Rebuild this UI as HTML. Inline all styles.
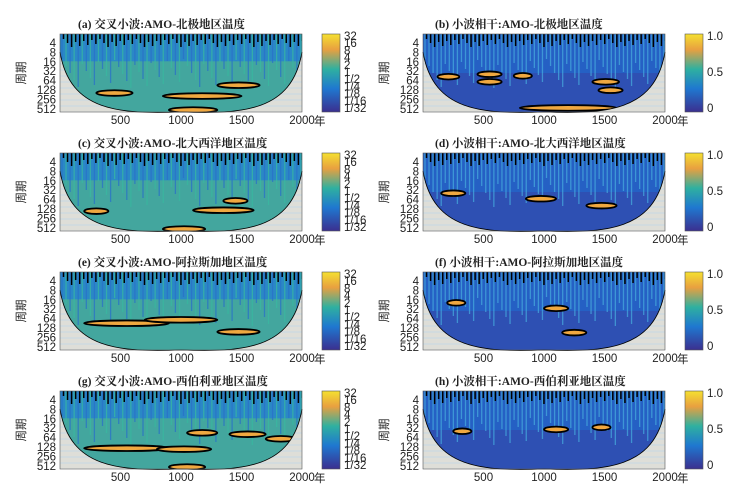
<!DOCTYPE html>
<html><head><meta charset="utf-8"><style>
body{margin:0;background:#fff;width:741px;height:493px;overflow:hidden}
svg{display:block}
text{font-family:"Liberation Sans","Noto Sans CJK SC",sans-serif;font-size:11.5px;fill:#222}
.t{font-family:"Liberation Serif","Noto Serif CJK SC",serif;font-size:11.5px;font-weight:bold}
</style></head><body>
<svg id="fig" width="741" height="493"></svg>
<script>
const xTicks=[500,1000,1500,2000];
const yTicks=[4,8,16,32,64,128,256,512];
const cbLeftTicks=["32","16","8","4","2","1","1/2","1/4","1/8","1/16","1/32"];
const cbRightTicks=["1.0","0.5","0"];
const titles=["(a) 交叉小波:AMO-北极地区温度","(b) 小波相干:AMO-北极地区温度","(c) 交叉小波:AMO-北大西洋地区温度","(d) 小波相干:AMO-北大西洋地区温度","(e) 交叉小波:AMO-阿拉斯加地区温度","(f) 小波相干:AMO-阿拉斯加地区温度","(g) 交叉小波:AMO-西伯利亚地区温度","(h) 小波相干:AMO-西伯利亚地区温度"];
// significant regions: [yearStart, yearEnd, period]
const blobsA=[[300,600,160],[850,1500,200],[1300,1650,90],[900,1300,560]];
const blobsB=[[120,300,48],[450,650,40],[450,650,70],[750,900,45],[1400,1620,70],[1450,1650,130],[800,1600,480]];
const blobsC=[[200,400,150],[1100,1600,140],[1350,1550,70],[850,1200,560]];
const blobsD=[[150,350,40],[1350,1600,100],[850,1100,60]];
const blobsE=[[200,900,90],[700,1300,70],[1300,1650,170]];
const blobsF=[[200,350,20],[1000,1200,30],[1150,1350,180]];
const blobsG=[[200,900,140],[800,1250,150],[1050,1300,45],[1400,1700,50],[1700,1950,70],[900,1200,560]];
const blobsH=[[250,400,40],[1400,1550,30],[1000,1200,35]];
const blobs=[blobsA,blobsB,blobsC,blobsD,blobsE,blobsF,blobsG,blobsH];
const NS="http://www.w3.org/2000/svg";
const fig=document.getElementById('fig');
function mk(tag,attrs,parent){const e=document.createElementNS(NS,tag);for(const k in attrs)e.setAttribute(k,attrs[k]);(parent||fig).appendChild(e);return e;}
const defs=mk('defs',{});
['cbL','cbR'].forEach(id=>{const lg=mk('linearGradient',{id:id,x1:0,y1:1,x2:0,y2:0},defs);
[["0","#3b2f8f"],["0.3","#1f78d0"],["0.55","#2fb0a0"],["0.8","#e8a040"],["1","#f5e030"]].forEach(s=>mk('stop',{offset:s[0],'stop-color':s[1]},lg));});
const tops=[34,153,272,391], H=78;
for(let p=0;p<8;p++){
  const row=Math.floor(p/2), right=p%2===1;
  const x0=right?423:60, x1=right?665:302, top=tops[row], bot=top+H;
  const X=y=>x0+(y/2000)*(x1-x0);
  const Y=per=>top+9+(Math.log2(per)-2)*9.4;
  const g=mk('g',{});
  
  
  const cid='c'+p;
  const cp=mk('clipPath',{id:cid},defs);
  const s=top+18;
  const edge=`M${x0},${s} C${x0+10},${bot} ${x0+60},${bot+2} ${(x0+x1)/2},${bot} C${x1-60},${bot+2} ${x1-10},${bot} ${x1},${s}`;
  mk('path',{d:edge+` L${x1},${top} L${x0},${top} Z`},cp);
  mk('rect',{x:x0,y:top,width:x1-x0,height:H,fill:'#e2e6e4'},g);
  for(let i=0;i<24;i++) mk('line',{x1:x0,x2:x1,y1:top+30+i*2,y2:top+30+i*2,stroke:i%3?'#d6d0c4':'#b8c8d4','stroke-width':0.7},g);
  const ig=mk('g',{'clip-path':`url(#${cid})`},g);
  mk('rect',{x:x0,y:top,width:x1-x0,height:H,fill:right?'#2560c4':'#2a88c6'},ig);
  if(!right){mk('rect',{x:x0,y:top+H*0.35,width:x1-x0,height:H*0.65,fill:'#4cb090',opacity:0.75},ig);}
  else{mk('rect',{x:x0,y:top+H*0.5,width:x1-x0,height:H*0.5,fill:'#3a3fa0',opacity:0.45},ig);}
  for(let i=0;i<60;i++){const xx=x0+2+i*4.05;
    mk('line',{x1:xx,x2:xx,y1:top,y2:top+25+((i*37)%30),stroke:right?'#45a8dc':(i%2?'#38b8a0':'#2a70c8'),'stroke-width':1.3,opacity:0.75},ig);
    mk('line',{x1:xx+1.5,x2:xx+1.5,y1:top,y2:top+5+((i*13)%9),stroke:'#000','stroke-width':1.5},ig);}
  blobs[p].forEach(b=>{const e=mk('ellipse',{cx:(X(b[0])+X(b[1]))/2,cy:Y(b[2]),rx:(X(b[1])-X(b[0]))/2,ry:2.8,fill:'#f0a840',stroke:'#000','stroke-width':1.8},ig);
    
    });
  mk('path',{d:edge,fill:'none',stroke:'#000','stroke-width':0.8},g);
  mk('rect',{x:x0,y:top,width:x1-x0,height:H,fill:'none',stroke:'#555','stroke-width':0.6},g);
  const tt=mk('text',{x:right?x0+12:x0+18,y:top-6,class:'t'},g);tt.textContent=titles[p];
  yTicks.forEach(v=>{const t=mk('text',{x:x0-4,y:Y(v)+4,'text-anchor':'end'},g);t.textContent=v;});
  xTicks.forEach(v=>{const t=mk('text',{x:X(v),y:bot+12,'text-anchor':'middle'},g);t.textContent=v;});
  const yr=mk('text',{x:x1+12,y:bot+13,'font-size':'13'},g);yr.textContent='年';
  const yl=mk('text',{transform:`translate(${x0-35},${top+H/2}) rotate(-90)`,'text-anchor':'middle','font-size':'13'},g);yl.textContent='周期';
  const cbx=right?685:322;
  const cb=mk('rect',{x:cbx,y:top,width:18,height:H,fill:right?'url(#cbR)':'url(#cbL)',stroke:'#555','stroke-width':0.6},g);
  
  
  const labs=right?cbRightTicks:cbLeftTicks;
  labs.forEach((l,i)=>{const t=mk('text',{x:cbx+22,y:top+6+i*(H-6)/(labs.length-1),'font-size':right?'11':'8'},g);t.textContent=l;});
}
</script>
</body></html>
